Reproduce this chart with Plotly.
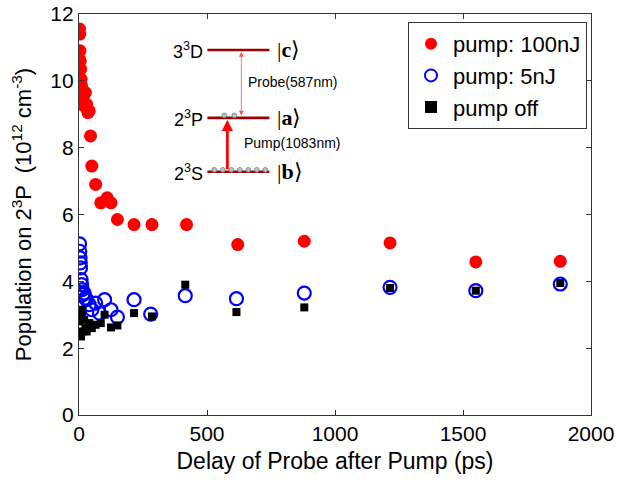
import plotly.graph_objects as go

# ---- data ----
red_x = [2, 3, 4, 5, 6, 8, 10, 12, 15, 18, 20, 25, 30, 35, 40, 45, 50, 65, 85, 110, 125, 150, 215, 285, 420, 620, 880, 1215, 1550, 1880]
red_y = [11.55, 11.4, 10.9, 10.6, 10.35, 10.05, 9.85, 9.6, 9.3, 9.6, 9.25, 9.65, 9.3, 9.05, 9.1, 8.35, 7.45, 6.9, 6.35, 6.5, 6.35, 5.85, 5.7, 5.7, 5.7, 5.1, 5.2, 5.15, 4.58, 4.6]

blue_x = [2, 3, 4, 5, 6, 8, 10, 12, 15, 20, 25, 30, 40, 50, 65, 80, 100, 125, 150, 215, 280, 415, 615, 880, 1215, 1550, 1880]
blue_y = [5.12, 4.9, 4.7, 4.55, 4.4, 4.05, 3.9, 3.75, 3.6, 3.65, 3.5, 3.45, 3.3, 3.15, 3.35, 3.05, 3.45, 3.15, 2.93, 3.45, 3.02, 3.57, 3.48, 3.65, 3.82, 3.72, 3.92]

black_x = [2, 3, 4, 5, 6, 8, 10, 12, 15, 20, 25, 30, 40, 50, 65, 85, 100, 125, 150, 215, 285, 415, 615, 880, 1215, 1550, 1880]
black_y = [3.1, 3.0, 2.9, 2.8, 2.45, 2.35, 3.15, 2.95, 2.5, 2.85, 2.6, 2.5, 2.75, 2.6, 2.7, 2.75, 3.0, 2.62, 2.68, 3.05, 2.95, 3.9, 3.08, 3.22, 3.8, 3.72, 3.95]

x_ticks = [0, 500, 1000, 1500, 2000]
y_ticks = [0, 2, 4, 6, 8, 10, 12]

FONT = "Liberation Sans, Arial, sans-serif"
SERIF = "Liberation Serif, Times New Roman, serif"

fig = go.Figure()
fig.add_trace(go.Scatter(x=red_x, y=red_y, mode="markers", name="pump: 100nJ",
                         marker=dict(symbol="circle", size=13, color="#ff0000", line=dict(width=0))))
fig.add_trace(go.Scatter(x=blue_x, y=blue_y, mode="markers", name="pump: 5nJ",
                         marker=dict(symbol="circle-open", size=13, color="#0000ff", line=dict(width=2.2))))
fig.add_trace(go.Scatter(x=black_x, y=black_y, mode="markers", name="pump off",
                         marker=dict(symbol="square", size=8, color="#000000", line=dict(width=0))))

# body margin is removed by the post script, so the figure fills the window
W, H = 627, 487
# plot-area edges in screen pixels (from the reference)
L, R, T, B = 78.5, 591.0, 14.0, 415.5

def px(x):
    return (x - L) / (R - L)
def py(y):
    return (B - y) / (B - T)

levels = [("3<sup>3</sup>D", 50, "|<b>c</b>⟩"), ("2<sup>3</sup>P", 118, "|<b>a</b>⟩"), ("2<sup>3</sup>S", 172, "|<b>b</b>⟩")]
shapes = []
annotations = []
for lab, yy, ket in levels:
    shapes.append(dict(type="line", xref="paper", yref="paper", x0=px(207), x1=px(269), y0=py(yy), y1=py(yy),
                       line=dict(color="#a00000", width=2.6)))
    annotations.append(dict(xref="paper", yref="paper", x=px(205), y=py(yy + 1), text=lab, showarrow=False,
                            xanchor="right", yanchor="middle", font=dict(family=FONT, size=18, color="black")))
    annotations.append(dict(xref="paper", yref="paper", x=px(275), y=py(yy), text=ket, showarrow=False,
                            xanchor="left", yanchor="middle",
                            font=dict(family=SERIF, size=22, color="black")))

# atoms
def circ(cx, cy, r=2.4):
    return dict(type="circle", xref="paper", yref="paper",
                x0=px(cx - r), x1=px(cx + r), y0=py(cy + r), y1=py(cy - r),
                fillcolor="#a9c6c8", line=dict(color="#6f8890", width=0.8))
for cx in [224, 234]:
    shapes.append(circ(cx, 115.5))
for cx in [214, 222.5, 231, 239.5, 248, 256.5, 265]:
    shapes.append(circ(cx, 170))

# probe arrow (double headed, thin)
annotations.append(dict(xref="paper", yref="paper", x=px(241), y=py(52), ax=0, ay=65, axref="pixel", ayref="pixel",
                        showarrow=True, arrowhead=2, startarrowhead=2, arrowside="end+start", arrowsize=1.2,
                        startarrowsize=1.2, arrowwidth=0.8, arrowcolor="#ff5050", text=""))
# pump arrow (thick)
annotations.append(dict(xref="paper", yref="paper", x=px(227), y=py(120), ax=0, ay=51, axref="pixel", ayref="pixel",
                        showarrow=True, arrowhead=2, arrowsize=0.8, arrowwidth=2.8, arrowcolor="#ff0000", text=""))
annotations.append(dict(xref="paper", yref="paper", x=px(246), y=py(82), text="Probe(587nm)", showarrow=False,
                        xanchor="left", yanchor="middle", font=dict(family=FONT, size=14, color="black")))
annotations.append(dict(xref="paper", yref="paper", x=px(242), y=py(143), text="Pump(1083nm)", showarrow=False,
                        xanchor="left", yanchor="middle", font=dict(family=FONT, size=14, color="black")))

axis_common = dict(showgrid=False, zeroline=False, showline=True, linecolor="#333333", linewidth=1.2,
                   mirror="ticks", ticks="inside", ticklen=5, tickcolor="#333333", automargin=False,
                   ticklabeloverflow="allow",
                   tickfont=dict(family=FONT, size=21, color="black"))

fig.update_layout(
    width=W, height=H,
    margin=dict(l=L, r=W - R, t=T, b=H - B, autoexpand=False),
    paper_bgcolor="white", plot_bgcolor="white",
    font=dict(family=FONT, color="black"),
    xaxis=dict(range=[0, 2000], tickvals=x_ticks, ticktext=[str(v) for v in x_ticks],
               title=dict(text="Delay of Probe after Pump (ps)", font=dict(family=FONT, size=23), standoff=8),
               **axis_common),
    yaxis=dict(range=[0, 12], tickvals=y_ticks, ticktext=[str(v) for v in y_ticks],
               title=dict(text="Population on 2<sup>3</sup>P  (10<sup>12</sup> cm<sup>-3</sup>)",
                          font=dict(family=FONT, size=22), standoff=12),
               **axis_common),
    legend=dict(x=px(587), y=py(22), xanchor="right", yanchor="top",
                bordercolor="#333333", borderwidth=1, bgcolor="white",
                font=dict(family=FONT, size=22, color="black"), itemsizing="constant",
                itemwidth=34, tracegroupgap=0),
    shapes=shapes,
    annotations=annotations,
    showlegend=True,
    hovermode=False,
)

fig.write_html("out.html", config={"displayModeBar": False},
               post_script="document.body.style.margin='0';document.body.style.overflow='hidden';")
